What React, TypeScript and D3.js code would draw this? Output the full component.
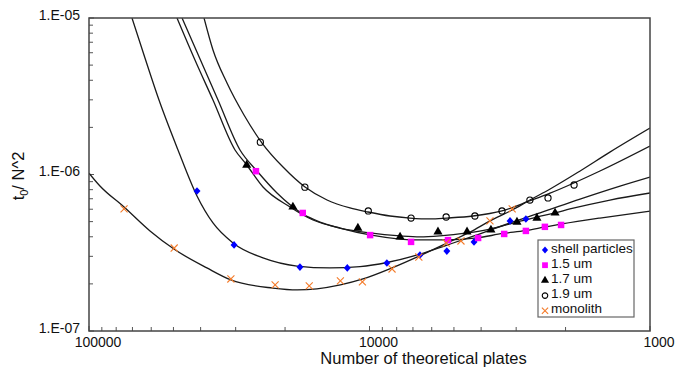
import React from "react";
import * as d3 from "d3";

type P = [number, number];

// x: number of theoretical plates, y: t0/N^2
const xTicks = [100000, 10000, 1000];
const yTicks = [1e-5, 1e-6, 1e-7];
const yTickLabels = ["1.E-05", "1.E-06", "1.E-07"];
const xTickLabels = ["100000", "10000", "1000"];

const shellPts: P[] = [[41200,7.85e-7],[30400,3.55e-7],[17700,2.56e-7],[12000,2.53e-7],[8670,2.72e-7],[6610,3.06e-7],[5300,3.24e-7],[4240,3.71e-7],[3155,5.05e-7],[2770,5.2e-7]];
const um15Pts: P[] = [[25400,1.05e-6],[17300,5.68e-7],[9950,4.1e-7],[7110,3.71e-7],[5250,3.81e-7],[4100,3.93e-7],[3310,4.17e-7],[2770,4.36e-7],[2370,4.63e-7],[2075,4.76e-7]];
const um17Pts: P[] = [[27400,1.15e-6],[18750,6.2e-7],[11000,4.55e-7],[7780,3.99e-7],[5700,4.3e-7],[4490,4.3e-7],[3690,4.42e-7],[2980,4.97e-7],[2530,5.27e-7],[2180,5.68e-7]];
const um19Pts: P[] = [[24500,1.61e-6],[17000,8.3e-7],[10100,5.85e-7],[7110,5.27e-7],[5330,5.35e-7],[4210,5.43e-7],[3370,5.85e-7],[2680,6.87e-7],[2310,7.08e-7],[1865,8.57e-7]];
const monoPts: P[] = [[75000,6.03e-7],[49700,3.39e-7],[31200,2.15e-7],[21700,1.97e-7],[16400,1.94e-7],[12700,2.09e-7],[10600,2.06e-7],[8310,2.49e-7],[6670,2.97e-7],[5330,3.65e-7],[4720,3.76e-7],[3720,5.05e-7],[3100,6.03e-7]];

// fitted curves
const shellFit: P[] = [[70260,1e-5],[63160,5.55e-6],[56290,2.99e-6],[48160,1.434e-6],[41210,7.29e-7],[36140,4.9e-7],[30660,3.65e-7],[23970,2.93e-7],[18140,2.6e-7],[13830,2.53e-7],[10810,2.58e-7],[8660,2.74e-7],[6607,3.1e-7],[5290,3.54e-7],[4240,4.05e-7],[3156,4.9e-7],[2467,5.68e-7],[1776,6.97e-7],[1279,8.44e-7],[1000,9.64e-7]];
const um15Fit: P[] = [[46600,1e-5],[34680,2.99e-6],[28950,1.434e-6],[25180,1.053e-6],[21370,7.62e-7],[17260,5.59e-7],[15010,4.97e-7],[12740,4.55e-7],[9960,4.11e-7],[7785,3.87e-7],[6607,3.82e-7],[5290,3.82e-7],[4140,3.93e-7],[3343,4.2e-7],[2790,4.38e-7],[2367,4.62e-7],[2059,4.83e-7],[1508,5.27e-7],[1000,5.84e-7]];
const um17Fit: P[] = [[48560,1e-5],[41900,5.39e-6],[36140,2.99e-6],[30160,1.434e-6],[27560,1.167e-6],[23970,8.32e-7],[19200,6.2e-7],[15900,5.12e-7],[12740,4.55e-7],[9960,4.23e-7],[7785,4.05e-7],[6607,3.99e-7],[5607,4.05e-7],[4490,4.23e-7],[3720,4.48e-7],[2980,4.97e-7],[2529,5.35e-7],[2182,5.68e-7],[1929,6.02e-7],[1389,6.87e-7],[1000,7.62e-7]];
const um19Fit: P[] = [[38900,1e-5],[36140,6.25e-6],[32210,3.84e-6],[28020,2.4e-6],[24160,1.589e-6],[20340,1.116e-6],[16980,8.32e-7],[14170,6.87e-7],[11740,6.11e-7],[10120,5.76e-7],[8450,5.43e-7],[7170,5.27e-7],[6085,5.2e-7],[5290,5.27e-7],[4276,5.43e-7],[3370,5.85e-7],[2678,6.8e-7],[2272,7.6e-7],[1508,1.053e-6],[1000,1.521e-6]];
const monoFit: P[] = [[100000,1.02e-6],[91400,8.44e-7],[75000,6.2e-7],[60600,4.36e-7],[49800,3.34e-7],[38000,2.53e-7],[31200,2.12e-7],[22100,1.88e-7],[18100,1.83e-7],[15400,1.86e-7],[12700,1.97e-7],[10550,2.15e-7],[8310,2.53e-7],[6660,3.01e-7],[5290,3.65e-7],[4380,4.29e-7],[3720,5.05e-7],[3100,5.93e-7],[2680,6.87e-7],[2270,8.08e-7],[1780,1.05e-6],[1390,1.39e-6],[1000,1.98e-6]];

const seriesNames = ["shell particles", "1.5 um", "1.7 um", "1.9 um", "monolith"];

const W = 675, H = 377;
const L = 89, R = 650, T = 18, B = 331;
const FONT = "Liberation Sans, Arial, sans-serif";

// compact diamond (rotated square)
const diamond: d3.SymbolType = {
  draw(ctx, size) {
    const r = Math.sqrt(size / 2);
    ctx.moveTo(0, -r * 1.1);
    ctx.lineTo(r, 0);
    ctx.lineTo(0, r * 1.1);
    ctx.lineTo(-r, 0);
    ctx.closePath();
  },
};

export default function App() {
  const x = d3.scaleLog().domain([100000, 1000]).range([L, R]);
  const y = d3.scaleLog().domain([1e-7, 1e-5]).range([B, T]);
  const line = d3.line<P>().x(d => x(d[0])).y(d => y(d[1])).curve(d3.curveMonotoneX);

  const series = [
    { name: seriesNames[0], pts: shellPts, sym: diamond, size: 24, fill: "#0000ff", stroke: "none" },
    { name: seriesNames[1], pts: um15Pts, sym: d3.symbolSquare, size: 42, fill: "#ff00ff", stroke: "none" },
    { name: seriesNames[2], pts: um17Pts, sym: d3.symbolTriangle, size: 36, fill: "#000000", stroke: "none" },
    { name: seriesNames[3], pts: um19Pts, sym: d3.symbolCircle, size: 30, fill: "none", stroke: "#000000" },
    { name: seriesNames[4], pts: monoPts, sym: d3.symbolX, size: 34, fill: "none", stroke: "#f47b2a" },
  ];
  const fits = [shellFit, um15Fit, um17Fit, um19Fit, monoFit];

  const minorX: number[] = [];
  for (const dec of [10000, 1000]) for (let k = 2; k <= 9; k++) minorX.push(dec * k);
  const minorY: number[] = [];
  for (const dec of [1e-7, 1e-6]) for (let k = 2; k <= 9; k++) minorY.push(dec * k);

  const legendX = 538, legendY = 240;
  return (
    <svg width={W} height={H} style={{ position: "absolute", left: 0, top: 0, background: "#fff" }} fontFamily={FONT}>
      <defs>
        <clipPath id="plot"><rect x={L} y={T} width={R - L} height={B - T} /></clipPath>
      </defs>
      <rect x={0} y={0} width={W} height={H} fill="#fff" />
      {/* ticks */}
      {minorY.map((v, i) => (
        <line key={"my" + i} x1={L} x2={L + 4} y1={y(v)} y2={y(v)} stroke="#555" strokeWidth={1} />
      ))}
      {yTicks.map((v, i) => (
        <line key={"Y" + i} x1={L} x2={L + 5} y1={y(v)} y2={y(v)} stroke="#555" strokeWidth={1} />
      ))}
      {minorX.map((v, i) => (
        <line key={"mx" + i} x1={x(v)} x2={x(v)} y1={B} y2={B - 4} stroke="#555" strokeWidth={1} />
      ))}
      {xTicks.map((v, i) => (
        <line key={"X" + i} x1={x(v)} x2={x(v)} y1={B} y2={B - 5} stroke="#555" strokeWidth={1} />
      ))}
      {/* fitted curves */}
      <g clipPath="url(#plot)">
        {fits.map((f, i) => (
          <path key={"f" + i} d={line(f) || ""} fill="none" stroke="#1a1a1a" strokeWidth={1.3} />
        ))}
      </g>
      {/* markers */}
      {series.map((s, si) => (
        <g key={"s" + si}>
          {s.pts.map((p, i) => (
            <path key={i} transform={`translate(${x(p[0])},${y(p[1])})`} d={d3.symbol(s.sym, s.size)() || ""}
              fill={s.fill} stroke={s.stroke} strokeWidth={s.stroke === "none" ? 0 : 1.1} />
          ))}
        </g>
      ))}
      {/* frame */}
      <rect x={L} y={T} width={R - L} height={B - T} fill="none" stroke="#444" strokeWidth={1.5} />
      {/* tick labels */}
      {yTicks.map((v, i) => (
        <text key={"yl" + i} x={L - 9} y={y(v) - 2} textAnchor="end" dominantBaseline="middle" fontSize={14} fill="#111">{yTickLabels[i]}</text>
      ))}
      {xTicks.map((v, i) => (
        <text key={"xl" + i} x={x(v) + 9} y={B + 16} textAnchor="middle" fontSize={14} fill="#111">{xTickLabels[i]}</text>
      ))}
      {/* axis titles */}
      <text x={(L + R) / 2 + 54} y={364} textAnchor="middle" fontSize={16.5} fill="#111">Number of theoretical plates</text>
      <text transform="translate(24,176) rotate(-90)" textAnchor="middle" fontSize={16.5} fill="#111">
        t<tspan fontSize={11} dy={4}>0</tspan><tspan dy={-4}>/ N^2</tspan>
      </text>
      {/* legend */}
      <rect x={legendX} y={legendY} width={96} height={77} fill="#fff" stroke="#666" strokeWidth={1.2} />
      {series.map((s, i) => {
        const cy = legendY + 9 + i * 15.2;
        return (
          <g key={"lg" + i}>
            <path transform={`translate(${legendX + 7},${cy + 1})`} d={d3.symbol(s.sym, s.size * 0.8)() || ""}
              fill={s.fill} stroke={s.stroke} strokeWidth={s.stroke === "none" ? 0 : 1.1} />
            <text x={legendX + 13} y={cy} dominantBaseline="middle" fontSize={13.5} fill="#111">{s.name}</text>
          </g>
        );
      })}
    </svg>
  );
}
